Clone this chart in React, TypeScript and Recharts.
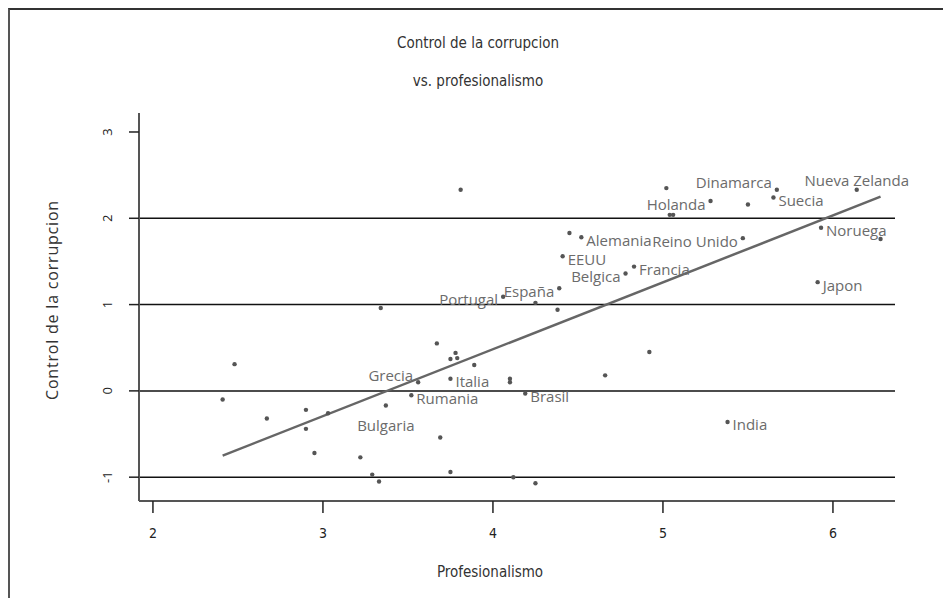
import { ScatterChart, Scatter, XAxis, YAxis, ReferenceLine } from "recharts";

// Profesionalismo (x) y control de la corrupcion (y)
const profesionalismo = [
  2.41, 2.48, 2.67, 2.9, 2.9, 2.95, 3.03, 3.22, 3.29, 3.33,
  3.34, 3.37, 3.52, 3.56, 3.67, 3.69, 3.75, 3.75, 3.75, 3.78,
  3.79, 3.81, 3.89, 4.06, 4.1, 4.1, 4.12, 4.19, 4.25, 4.25,
  4.38, 4.39, 4.41, 4.45, 4.52, 4.66, 4.78, 4.83, 4.92, 5.02,
  5.04, 5.06, 5.28, 5.38, 5.47, 5.5, 5.65, 5.67, 5.91, 5.93,
  6.14, 6.28,
];
const corrupcion = [
  -0.1, 0.31, -0.32, -0.22, -0.44, -0.72, -0.26, -0.77, -0.97, -1.05,
  0.96, -0.17, -0.05, 0.1, 0.55, -0.54, 0.37, 0.14, -0.94, 0.44,
  0.38, 2.33, 0.3, 1.09, 0.14, 0.1, -1.0, -0.03, 1.02, -1.07,
  0.94, 1.19, 1.56, 1.83, 1.78, 0.18, 1.36, 1.44, 0.45, 2.35,
  2.04, 2.04, 2.2, -0.36, 1.77, 2.16, 2.24, 2.33, 1.26, 1.89,
  2.33, 1.76,
];
const paises = [
  "", "", "", "", "", "", "", "", "", "",
  "", "Bulgaria", "Rumania", "Grecia", "", "", "", "Italia", "", "",
  "", "", "", "Portugal", "", "", "", "Brasil", "", "",
  "", "España", "EEUU", "", "Alemania", "", "Belgica", "Francia", "", "",
  "", "", "Holanda", "India", "Reino Unido", "", "Suecia", "Dinamarca", "Japon", "Noruega",
  "Nueva Zelanda", "",
];

// recta de regresión (extremos)
const ajusteX = [2.41, 6.28];
const ajusteY = [-0.75, 2.25];

const xTicks = [2, 3, 4, 5, 6];
const yTicks = [-1, 0, 1, 2, 3];
const lineasH = [-1, 0, 1, 2];

const data = profesionalismo.map((x, i) => ({ x, y: corrupcion[i], name: paises[i] }));

// dónde va cada etiqueta respecto a su punto
const posEtiqueta: Record<string, { lado: "izq" | "der" | "arriba" | "abajo"; dy?: number }> = {
  Bulgaria: { lado: "abajo" },
  Grecia: { lado: "izq", dy: -10 },
  Dinamarca: { lado: "izq", dy: -10 },
  "Nueva Zelanda": { lado: "arriba" },
  Holanda: { lado: "izq" },
  "Reino Unido": { lado: "izq" },
  Belgica: { lado: "izq" },
  Portugal: { lado: "izq" },
  España: { lado: "izq" },
};

const labelFont = "'Open Sans', 'DejaVu Sans', sans-serif";
const narrowFont = "'Liberation Sans Narrow', 'DejaVu Sans Condensed', sans-serif";

function Punto(props: any) {
  const { cx, cy, payload } = props;
  const name: string = payload?.name ?? "";
  let etiqueta = null;
  if (name) {
    const p = posEtiqueta[name] ?? { lado: "der" };
    const dy = p.dy ?? 0;
    let tx = cx + 5;
    let ty = cy + 8.5 + dy;
    let anchor: "start" | "end" | "middle" = "start";
    if (p.lado === "izq") {
      tx = cx - 5;
      anchor = "end";
    } else if (p.lado === "arriba") {
      tx = cx;
      ty = cy - 4;
      anchor = "middle";
    } else if (p.lado === "abajo") {
      tx = cx;
      ty = cy + 25;
      anchor = "middle";
    }
    etiqueta = (
      <text x={tx} y={ty} textAnchor={anchor} fill="#6b6b6b" fontSize={15} fontFamily={labelFont}>
        {name}
      </text>
    );
  }
  return (
    <g>
      <circle cx={cx} cy={cy} r={2.2} fill="#555" />
      {etiqueta}
    </g>
  );
}

function TickX(props: any) {
  const { x, y, payload } = props;
  return (
    <text x={x} y={y + 25} textAnchor="middle" fill="#222" fontSize={14} fontFamily={narrowFont}>
      {payload.value}
    </text>
  );
}

function TickY(props: any) {
  const { x, y, payload } = props;
  return (
    <text
      transform={`translate(${x - 17}, ${y}) rotate(-90)`}
      textAnchor="middle"
      fill="#222"
      fontSize={13}
      fontFamily={labelFont}
    >
      {payload.value}
    </text>
  );
}

export default function App() {
  return (
    <div style={{ position: "absolute", left: 0, top: 0, width: 943, height: 598, background: "#fff", overflow: "hidden" }}>
      <div
        style={{
          position: "absolute",
          left: 8,
          top: 8,
          width: 960,
          height: 620,
          borderLeft: "2px solid #555",
          borderTop: "2px solid #333",
        }}
      />
      <ScatterChart width={943} height={598} margin={{ top: 113, right: 48, bottom: 67, left: 79 }}>
        <XAxis
          type="number"
          dataKey="x"
          domain={[1.918, 6.365]}
          ticks={xTicks}
          height={30}
          tickSize={12}
          tickMargin={0}
          axisLine={{ stroke: "#555", strokeWidth: 2 }}
          tickLine={{ stroke: "#222", strokeWidth: 1.5 }}
          tick={<TickX />}
        />
        <YAxis
          type="number"
          dataKey="y"
          domain={[-1.276, 3.22]}
          ticks={yTicks}
          width={60}
          tickSize={10}
          tickMargin={0}
          axisLine={{ stroke: "#555", strokeWidth: 2 }}
          tickLine={{ stroke: "#222", strokeWidth: 1.5 }}
          tick={<TickY />}
        />
        {lineasH.map((v) => (
          <ReferenceLine key={v} y={v} stroke="#111" strokeWidth={1.5} />
        ))}
        <ReferenceLine
          segment={[
            { x: ajusteX[0], y: ajusteY[0] },
            { x: ajusteX[1], y: ajusteY[1] },
          ]}
          stroke="#666"
          strokeWidth={2.5}
        />
        <Scatter data={data} shape={<Punto />} isAnimationActive={false} />
      </ScatterChart>
      <svg width={943} height={598} style={{ position: "absolute", left: 0, top: 0, pointerEvents: "none" }}>
        <text x={478} y={48} textAnchor="middle" fill="#333" fontSize={15} fontFamily={narrowFont}>
          Control de la corrupcion
        </text>
        <text x={478} y={86} textAnchor="middle" fill="#333" fontSize={15} fontFamily={narrowFont}>
          vs. profesionalismo
        </text>
        <text x={490} y={577} textAnchor="middle" fill="#333" fontSize={15} fontFamily={narrowFont}>
          Profesionalismo
        </text>
        <text
          transform="translate(58, 300) rotate(-90)"
          textAnchor="middle"
          fill="#333"
          fontSize={16}
          letterSpacing={0.8}
          fontFamily={labelFont}
        >
          Control de la corrupcion
        </text>
      </svg>
    </div>
  );
}
